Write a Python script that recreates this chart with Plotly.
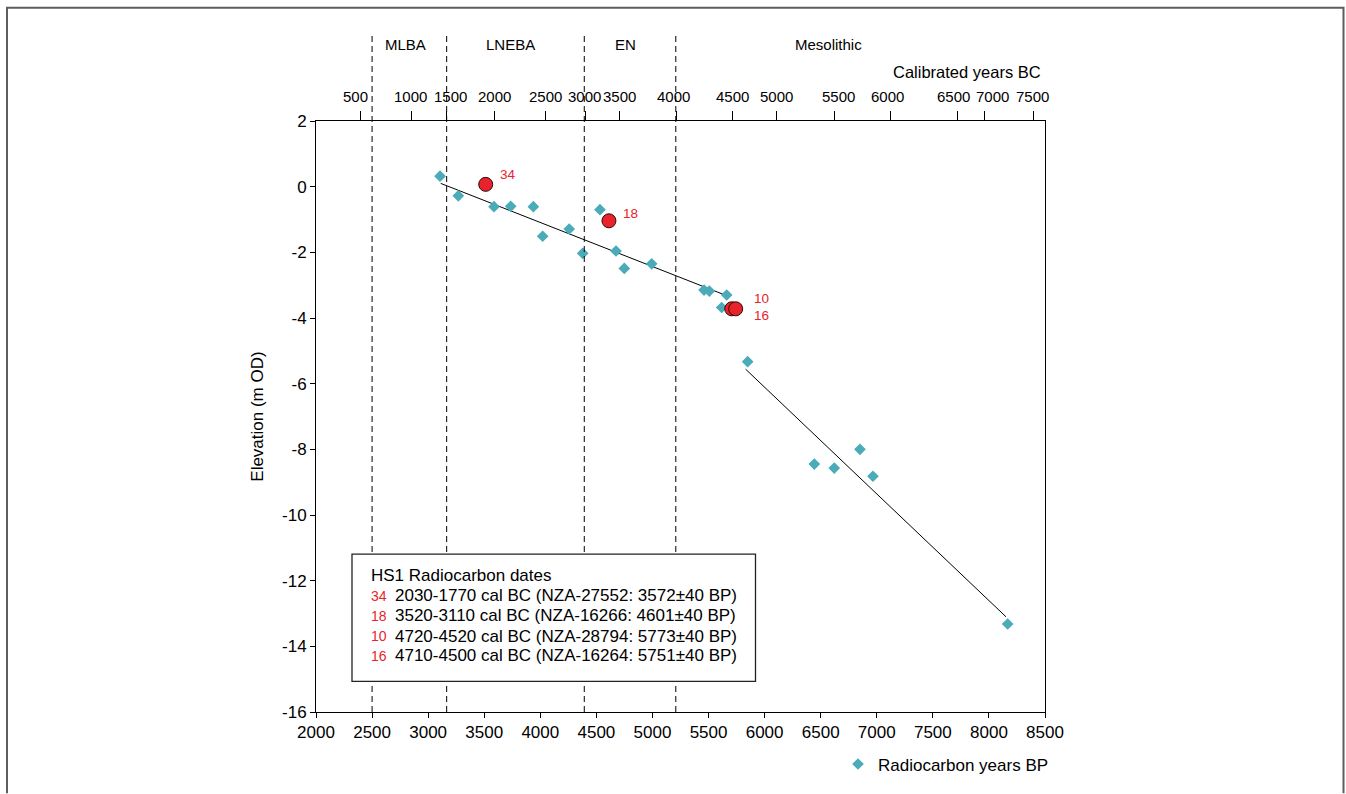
import plotly.graph_objects as go

# ---------------- data ----------------
# Radiocarbon years BP (x) vs elevation m OD (y) for the diamond series
bp_years = [3106, 3269, 3587, 3736, 3938, 4021, 4258, 4378, 4532, 4675, 4749, 4993,
            5460, 5507, 5662, 5617, 5849, 6443, 6621, 6850, 6966, 8167]
elevation = [0.32, -0.28, -0.61, -0.60, -0.61, -1.51, -1.29, -2.03, -0.70, -1.96, -2.49, -2.35,
             -3.15, -3.18, -3.30, -3.68, -5.33, -8.45, -8.57, -8.00, -8.82, -13.32]

# HS1 dated samples (red circles)
hs1_ids = ["34", "18", "16", "10"]
hs1_bp = [3513, 4612, 5707, 5742]
hs1_elev = [0.07, -1.04, -3.72, -3.72]

# trend lines (start/end)
trend1_x = [3112, 5632]
trend1_y = [0.10, -3.28]
trend2_x = [5831, 8152]
trend2_y = [-5.56, -13.10]

# period boundaries (BP position) and period names
boundaries_bp = [2500, 3165, 4392, 5208]
periods = ["MLBA", "LNEBA", "EN", "Mesolithic"]
period_pos_bp = [2802, 3730, 4764, 6574]

# top axis: calibrated years BC at BP positions
cal_bc_labels = ["500", "1000", "1500", "2000", "2500", "3000", "3500", "4000",
                 "4500", "5000", "5500", "6000", "6500", "7000", "7500"]
cal_bc_pos_bp = [2400, 2853, 3165, 3590, 4045, 4399, 4702, 5214,
                 5711, 6102, 6619, 7118, 7724, 7963, 8393]
# small horizontal nudges (px) of crowded labels, as in the original
cal_bc_nudge = [-5, -1, 4, 0, 0, -1, 0, -3, 0, 0, 4, -3, -4, 8, -1]

# y axis ticks
y_ticks = [-16, -14, -12, -10, -8, -6, -4, -2, 0, 2]

# legend box rows
legend_title = "HS1 Radiocarbon dates"
legend_ids = ["34", "18", "10", "16"]
legend_desc = ["2030-1770 cal BC (NZA-27552: 3572±40 BP)",
               "3520-3110 cal BC (NZA-16266: 4601±40 BP)",
               "4720-4520 cal BC (NZA-28794: 5773±40 BP)",
               "4710-4500 cal BC (NZA-16264: 5751±40 BP)"]

# ---------------- styling ----------------
TEAL = "#4BABB8"
RED = "#E8232B"
FONT = "Liberation Sans, Arial, sans-serif"

W, H = 1346, 794
L, R, T, B = 316, 1045, 121, 718  # plot area in pixels


def px(xpix):
    return (xpix - L) / (R - L)


def py(ypix):
    return (B - ypix) / (B - T)


fig = go.Figure()

fig.add_trace(go.Scatter(x=trend1_x, y=trend1_y, mode="lines",
                         line=dict(color="black", width=1), showlegend=False, hoverinfo="skip"))
fig.add_trace(go.Scatter(x=trend2_x, y=trend2_y, mode="lines",
                         line=dict(color="black", width=1), showlegend=False, hoverinfo="skip"))

fig.add_trace(go.Scatter(x=bp_years, y=elevation, mode="markers", name="Radiocarbon years BP",
                         marker=dict(symbol="diamond", size=9, color=TEAL, line=dict(width=0))))

fig.add_trace(go.Scatter(x=hs1_bp, y=hs1_elev, mode="markers", showlegend=False,
                         marker=dict(symbol="circle", size=14, color=RED,
                                     line=dict(color="#2a0a0a", width=1))))

# dummy trace for the top axis
fig.add_trace(go.Scatter(x=[None], y=[None], xaxis="x2", showlegend=False, hoverinfo="skip"))

# labels next to HS1 points
label_offsets = {"34": (12, 10), "18": (12, 7), "10": (16, 10), "16": (16, -7)}
anchor_pt = {"34": 0, "18": 1, "10": 3, "16": 3}
for lab in ["34", "18", "10", "16"]:
    i = anchor_pt[lab]
    dx, dy = label_offsets[lab]
    fig.add_annotation(x=hs1_bp[i], y=hs1_elev[i], xref="x", yref="y", text=lab,
                       showarrow=False, xanchor="left", yanchor="middle",
                       xshift=dx, yshift=dy, font=dict(family=FONT, size=13.5, color=RED))

shapes = []
# period boundary dashed lines
for b in boundaries_bp:
    shapes.append(dict(type="line", xref="x", yref="paper", x0=b, x1=b, y0=0, y1=py(35),
                       line=dict(color="black", width=1, dash="6px,4px")))
# legend box
shapes.append(dict(type="rect", xref="paper", yref="paper", x0=px(352), x1=px(755.5),
                   y0=py(687), y1=py(558.5), line=dict(color="#222", width=1.3),
                   fillcolor="white", layer="above"))
# outer frame (left, top, right)
shapes.append(dict(type="path", xref="paper", yref="paper",
                   path=f"M {px(7)} {py(800)} L {px(7)} {py(6.5)} L {px(1343.5)} {py(6.5)} L {px(1343.5)} {py(800)}",
                   line=dict(color="#5e5e5e", width=2)))
fig.update_layout(shapes=shapes)

# top axis tick labels (calibrated years BC)
for lab, pos, nud in zip(cal_bc_labels, cal_bc_pos_bp, cal_bc_nudge):
    fig.add_annotation(x=pos, y=py(96), xref="x", yref="paper", text=lab, showarrow=False,
                       xanchor="center", yanchor="middle", xshift=nud,
                       font=dict(family=FONT, size=15, color="black"))

# period names
for name, pos in zip(periods, period_pos_bp):
    fig.add_annotation(x=pos, y=py(44), xref="x", yref="paper", text=name, showarrow=False,
                       xanchor="center", yanchor="middle", font=dict(family=FONT, size=15, color="black"))
fig.add_annotation(x=px(1043), y=py(72), xref="paper", yref="paper", text="Calibrated years BC",
                   showarrow=False, xanchor="right", yanchor="middle",
                   font=dict(family=FONT, size=16.5, color="black"))

# legend box text
row_y = [580, 600.5, 621, 641.3, 661]
fig.add_annotation(x=px(368.5), y=py(row_y[0]), xref="paper", yref="paper", text=legend_title,
                   showarrow=False, xanchor="left", yanchor="middle",
                   font=dict(family=FONT, size=17, color="black"))
for k, (lid, desc) in enumerate(zip(legend_ids, legend_desc)):
    fig.add_annotation(x=px(368.5), y=py(row_y[k + 1]), xref="paper", yref="paper", text=lid,
                       showarrow=False, xanchor="left", yanchor="middle",
                       font=dict(family=FONT, size=14, color=RED))
    fig.add_annotation(x=px(393), y=py(row_y[k + 1]), xref="paper", yref="paper", text=desc,
                       showarrow=False, xanchor="left", yanchor="middle",
                       font=dict(family=FONT, size=17, color="black"))

fig.update_layout(
    width=W, height=H, autosize=False,
    margin=dict(l=L, r=W - R, t=T, b=H - B, pad=0),
    paper_bgcolor="white", plot_bgcolor="white",
    font=dict(family=FONT, size=17, color="black"),
    xaxis=dict(range=[2000, 8500], tickmode="linear", tick0=2000, dtick=500,
               ticks="outside", ticklen=5, tickcolor="black", showline=True, linecolor="black",
               linewidth=1, mirror=True, showgrid=False, zeroline=False,
               tickfont=dict(family=FONT, size=17)),
    xaxis2=dict(range=[2000, 8500], overlaying="x", side="top", anchor="y",
                tickmode="array", tickvals=cal_bc_pos_bp, showticklabels=False,
                ticks="outside", ticklen=9, tickcolor="black", showline=False,
                showgrid=False, zeroline=False),
    yaxis=dict(range=[-16, 2], tickmode="array", tickvals=y_ticks,
               ticktext=[str(v) for v in y_ticks],
               ticks="outside", ticklen=5, tickcolor="black", showline=True, linecolor="black",
               linewidth=1, mirror=True, showgrid=False, zeroline=False,
               tickfont=dict(family=FONT, size=17),
               title=dict(text="Elevation (m OD)", font=dict(family=FONT, size=17), standoff=14)),
    legend=dict(orientation="h", x=px(838), y=py(771), xanchor="left", yanchor="middle",
                font=dict(family=FONT, size=17), bgcolor="rgba(0,0,0,0)"),
    showlegend=True,
)

fig.write_html("out.html")
